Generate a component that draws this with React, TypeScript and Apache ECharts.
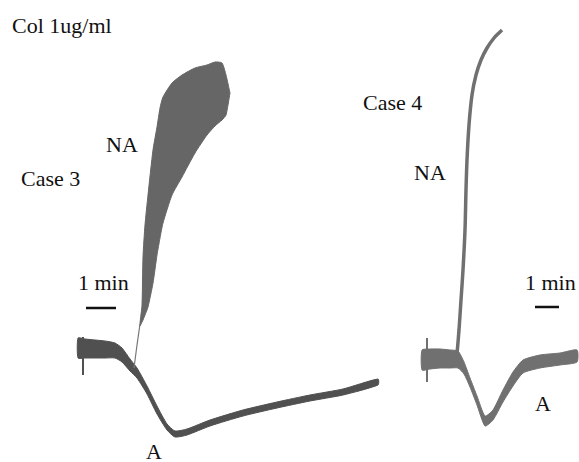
import React, { useEffect, useRef } from "react";
import * as echarts from "echarts";

// ---- Case 3 (left panel): time in s, signal in a.u. (deflection from baseline)
const c3NaTime = [140, 144, 146, 150, 156, 166, 174, 180, 186, 204, 224, 250, 274, 290, 304, 312, 320];
const c3NaUpper = [24, 42, 90, 122, 152, 197, 220, 239, 250, 264, 272, 279, 282, 285, 284, 272, 254];
const c3NaLower = [21, 25, 27, 32, 40, 64, 92, 109, 124, 152, 170, 194, 212, 221, 227, 232, 254];
const c3NaLinkTime = [128, 134, 140];
const c3NaLinkValue = [-21, 2, 23];

const c3ATime = [16, 30, 50, 70, 90, 104, 120, 134, 154, 174, 194, 210, 234, 280, 346, 414, 480, 546, 616];
const c3AUpper = [9, 8, 7, 6, 4, -1, -12, -21, -39, -59, -77, -84, -82, -73, -63, -55, -48, -42, -32];
const c3ALower = [-11, -11, -11, -11, -11, -15, -24, -31, -47, -67, -83, -90, -88, -79, -69, -61, -54, -48, -38];
const c3Spike = [[26, 10], [26, -28]];
const c3ScaleBar = [[32, 39], [92, 39]];

// ---- Case 4 (right panel)
const c4NaTime = [120, 125, 130, 135, 140, 142.5, 145, 150, 157.5, 167.5, 180, 195, 212.5, 227.5, 232.5];
const c4NaValue = [1, 25, 55, 85, 125, 165, 195, 230, 260, 280, 295, 307, 317, 323, 325];

const c4ATime = [32.5, 52.5, 77.5, 102.5, 122.5, 137.5, 152.5, 170, 190, 210, 235, 260, 285, 327.5, 377.5, 420];
const c4AUpper = [5, 6, 6, 5, 4, -7, -23, -41, -61, -55, -35, -17, -5, 0, 2, 5];
const c4ALower = [-15, -14, -13, -13, -13, -19, -32, -50, -71, -65, -47, -31, -18, -13, -10, -7];
const c4Spike = [[45, 17], [45, -27]];
const c4ScaleBar = [[315, 48], [375, 48]];

const labels = [
  { text: "Col 1ug/ml", x: 12, y: 25 },
  { text: "Case 3", x: 21, y: 178 },
  { text: "NA", x: 106, y: 144 },
  { text: "1 min", x: 78, y: 282 },
  { text: "A", x: 146, y: 451 },
  { text: "Case 4", x: 363, y: 102 },
  { text: "NA", x: 414, y: 172 },
  { text: "1 min", x: 525, y: 282 },
  { text: "A", x: 535, y: 403 },
];

function bandSeries(time: number[], upper: number[], lower: number[], axis: number, color: string) {
  return {
    type: "custom",
    xAxisIndex: axis,
    yAxisIndex: axis,
    silent: true,
    data: [[time[0], upper[0]]],
    renderItem: (_params: any, api: any) => {
      const pts: number[][] = [];
      for (let i = 0; i < time.length; i++) pts.push(api.coord([time[i], upper[i]]));
      for (let i = time.length - 1; i >= 0; i--) pts.push(api.coord([time[i], lower[i]]));
      return {
        type: "polygon",
        shape: { points: pts, smooth: 0.2 },
        style: { fill: color, stroke: color, lineWidth: 1 },
      };
    },
  };
}

function lineSeries(data: number[][], axis: number, color: string, width: number, smooth: number | boolean = false) {
  return {
    type: "line",
    xAxisIndex: axis,
    yAxisIndex: axis,
    data,
    symbol: "none",
    smooth,
    silent: true,
    lineStyle: { color, width },
  };
}

export default function App() {
  const ref = useRef<HTMLDivElement>(null);
  useEffect(() => {
    if (!ref.current) return;
    const chart = echarts.init(ref.current, undefined, { renderer: "svg" });
    chart.setOption({
      animation: false,
      backgroundColor: "#ffffff",
      grid: [
        { left: 70, top: 20, width: 320, height: 432 },
        { left: 409, top: 20, width: 170, height: 432 },
      ],
      xAxis: [
        { type: "value", gridIndex: 0, min: 0, max: 640, show: false },
        { type: "value", gridIndex: 1, min: 0, max: 425, show: false },
      ],
      yAxis: [
        { type: "value", gridIndex: 0, min: -105, max: 327, show: false },
        { type: "value", gridIndex: 1, min: -97, max: 335, show: false },
      ],
      series: [
        bandSeries(c3ATime, c3AUpper, c3ALower, 0, "#505050"),
        lineSeries(c3Spike, 0, "#505050", 2),
        lineSeries(c3NaLinkTime.map((t, i) => [t, c3NaLinkValue[i]]), 0, "#777777", 1.2),
        bandSeries(c3NaTime, c3NaUpper, c3NaLower, 0, "#666666"),
        lineSeries(c3ScaleBar, 0, "#111111", 2.5),
        bandSeries(c4ATime, c4AUpper, c4ALower, 1, "#707070"),
        lineSeries(c4Spike, 1, "#707070", 2),
        lineSeries(c4NaTime.map((t, i) => [t, c4NaValue[i]]), 1, "#707070", 3.5, 0.3),
        lineSeries(c4ScaleBar, 1, "#111111", 2.5),
      ],
      graphic: labels.map((l) => ({
        type: "text",
        x: l.x,
        y: l.y,
        silent: true,
        style: {
          text: l.text,
          fontSize: 22,
          fontFamily: "Liberation Serif",
          fill: "#111111",
          verticalAlign: "middle",
          align: "left",
        },
      })),
    });
    return () => chart.dispose();
  }, []);
  return (
    <div
      ref={ref}
      style={{ position: "absolute", left: 0, top: 0, width: 579, height: 462 }}
    />
  );
}
